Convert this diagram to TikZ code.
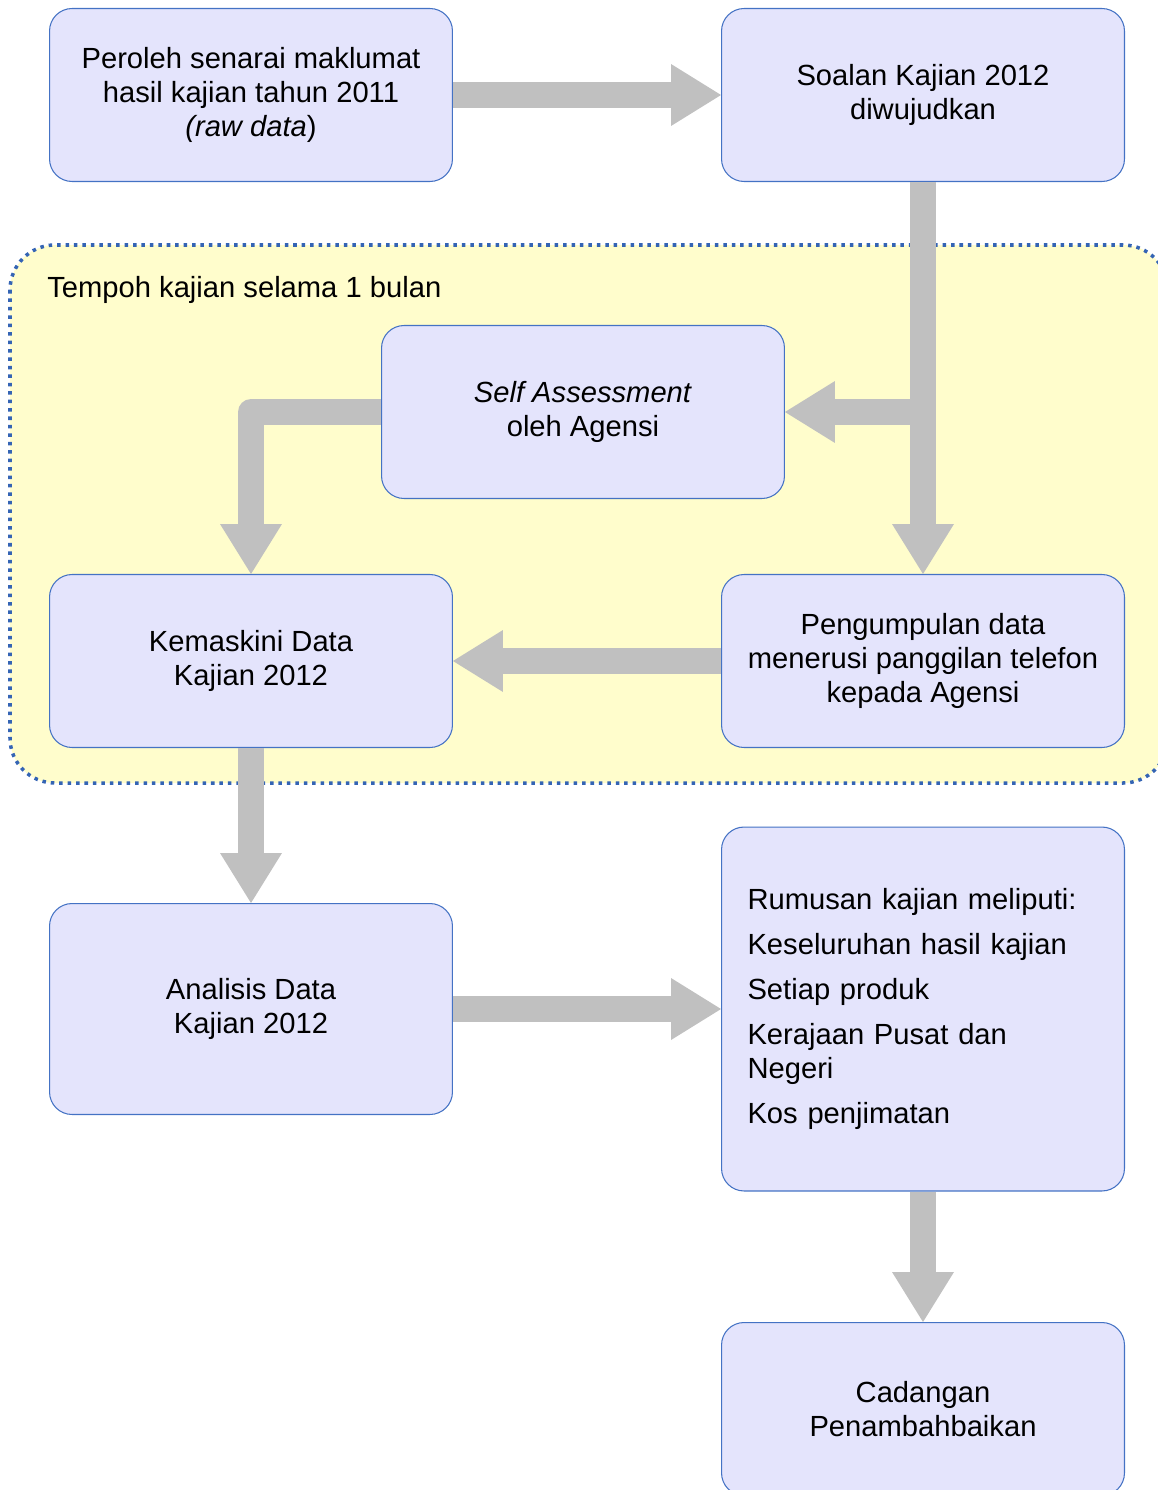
\documentclass[tikz,border=0pt]{standalone}
\usepackage{fontspec}
\setmainfont{Liberation Sans}
\usetikzlibrary{arrows.meta}
\definecolor{boxfill}{RGB}{228,228,252}
\definecolor{boxline}{RGB}{68,114,196}
\definecolor{periodfill}{RGB}{255,253,204}
\definecolor{periodline}{RGB}{52,100,180}
\definecolor{flowgray}{RGB}{192,192,192}
\begin{document}
\begin{tikzpicture}[x=0.02cm, y=-0.02cm, font=\fontsize{16.6}{19.4}\selectfont,
        box/.style={draw=boxline, fill=boxfill, line width=.6pt, rounded corners=.45cm,
                minimum width=8.06cm, minimum height=3.46cm, align=center, inner sep=0pt},
        flow/.style={color=flowgray, line width=.52cm, line join=round,
                -{Triangle[width=1.24cm, length=1cm, line width=0pt]}}]
        \path[use as bounding box, clip] (0,0) rectangle (1158,1490);
        \draw[periodline, fill=periodfill, line width=2pt, dash pattern=on 2pt off 2.8pt,
                rounded corners=.9cm] (10,245) rectangle (1168,783);
        \node[anchor=west, inner sep=0pt] (tempoh) at (47,290) {Tempoh kajian selama 1 bulan};
        \node[box] (raw) at (251,95) {Peroleh senarai maklumat\\hasil kajian tahun 2011\\\textit{(raw data})};
        \node[box] (soalan) at (923,95) {Soalan Kajian 2012\\diwujudkan};
        \node[box] (self) at (583,412) {\textit{Self Assessment}\\oleh Agensi};
        \node[box] (kemaskini) at (251,661) {Kemaskini Data\\Kajian 2012};
        \node[box] (kumpul) at (923,661) {Pengumpulan data\\menerusi panggilan telefon\\kepada Agensi};
        \node[box, minimum height=4.22cm] (analisis) at (251,1009) {Analisis Data\\Kajian 2012};
        \node[box, minimum height=7.28cm, align=left, text width=7.02cm] (rumusan) at (923,1009)
                {Rumusan kajian meliputi:\\[.22cm]Keseluruhan hasil kajian\\[.22cm]Setiap produk\\[.22cm]Kerajaan Pusat dan\\Negeri\\[.22cm]Kos penjimatan};
        \node[box] (cadangan) at (923,1409) {Cadangan\\Penambahbaikan};
        \coordinate (cabang) at (soalan.south |- self.east);
        \draw[flow] (raw) -- (soalan);
        \draw[flow] (soalan) -- (kumpul);
        \draw[flow] (cabang) -- (self);
        \draw[flow] (self.west) -| (kemaskini.north);
        \draw[flow] (kumpul) -- (kemaskini);
        \draw[flow] (kemaskini) -- (analisis);
        \draw[flow] (analisis) -- (rumusan);
        \draw[flow] (rumusan) -- (cadangan);
\end{tikzpicture}
\end{document}
